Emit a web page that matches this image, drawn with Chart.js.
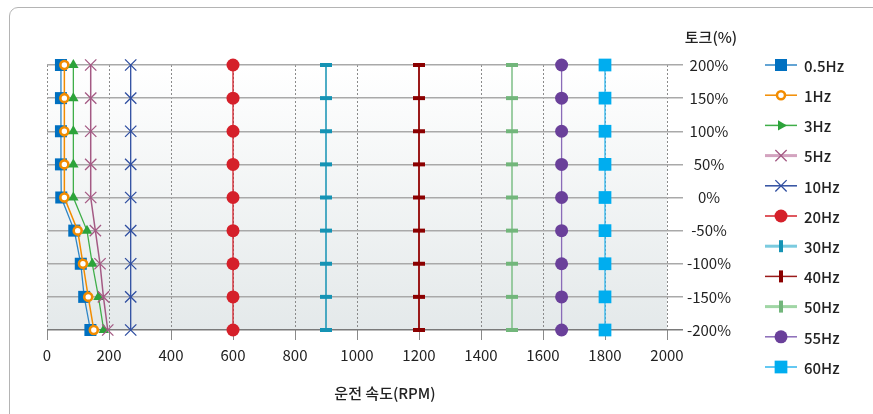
<!DOCTYPE html>
<html>
<head>
<meta charset="utf-8">
<script src="https://cdn.jsdelivr.net/npm/chart.js@4.4.0/dist/chart.umd.min.js"></script>
<style>
    html, body { margin: 0; padding: 0; background: #fff; overflow: hidden; }
    #wrap { position: relative; width: 873px; height: 414px; }
    #frame {
        position: absolute; left: 9px; top: 7px; width: 880px; height: 430px;
        border: 1.5px solid #b4b4b4; border-radius: 9px; box-sizing: border-box;
    }
    canvas { position: absolute; left: 0; top: 0; }
</style>
</head>
<body>
<div id="wrap">
    <div id="frame"></div>
    <canvas id="torqueChart" width="873" height="414"></canvas>
</div>
<script>
// Torque levels (%), shared by every series, top to bottom
const torque = [200, 150, 100, 50, 0, -50, -100, -150, -200];

// Operating speed (RPM) per frequency
const rpm05Hz = [45, 45, 45, 45, 46, 88, 109, 120, 140];
const rpm1Hz  = [56, 56, 56, 56, 56, 99, 116, 133, 151];
const rpm3Hz  = [85, 85, 85, 85, 85, 129, 146, 166, 183];
const rpm5Hz  = [141, 141, 141, 141, 141, 156, 171, 182, 196];
const rpm10Hz = [270, 270, 270, 270, 270, 270, 270, 270, 270];
const rpm20Hz = [600, 600, 600, 600, 600, 600, 600, 600, 600];
const rpm30Hz = [900, 900, 900, 900, 900, 900, 900, 900, 900];
const rpm40Hz = [1200, 1200, 1200, 1200, 1200, 1200, 1200, 1200, 1200];
const rpm50Hz = [1500, 1500, 1500, 1500, 1500, 1500, 1500, 1500, 1500];
const rpm55Hz = [1660, 1660, 1660, 1660, 1660, 1660, 1660, 1660, 1660];
const rpm60Hz = [1800, 1800, 1800, 1800, 1800, 1800, 1800, 1800, 1800];

const seriesLabels = ['0.5Hz', '1Hz', '3Hz', '5Hz', '10Hz', '20Hz', '30Hz', '40Hz', '50Hz', '55Hz', '60Hz'];
const seriesRpm = [rpm05Hz, rpm1Hz, rpm3Hz, rpm5Hz, rpm10Hz, rpm20Hz, rpm30Hz, rpm40Hz, rpm50Hz, rpm55Hz, rpm60Hz];

// Marker / line styles per series
const styles = [
    { line: '#2f86c6', fill: '#0070c0', stroke: '#0070c0', point: 'rect', r: 8.5, bw: 0, lw: 1.3 },
    { line: '#f28c00', fill: '#ffffff', stroke: '#f28c00', point: 'circle', r: 4, bw: 2.6, lw: 1.5 },
    { line: '#3fae49', fill: '#2ca33a', stroke: '#2ca33a', point: 'triangle', r: 6, bw: 0, lw: 1.3, legendRot: 90 },
    { line: '#a45a84', fill: '#a45a84', stroke: '#a45a84', point: 'crossRot', r: 8, bw: 1.3, lw: 1.5, legendLine: 'rgba(200,140,175,0.8)', legendLw: 3 },
    { line: '#2f4ea0', fill: '#2f4ea0', stroke: '#2f4ea0', point: 'crossRot', r: 8, bw: 1.3, lw: 1.3 },
    { line: '#d5202a', fill: '#d5202a', stroke: '#d5202a', point: 'circle', r: 6.5, bw: 0, lw: 1.3 },
    { line: '#1593b4', fill: '#1593b4', stroke: '#1593b4', point: 'line', r: 6, bw: 4, lw: 1.5, legendRot: 90, legendLine: 'rgba(90,190,215,0.8)', legendLw: 3 },
    { line: '#9b1a1a', fill: '#8b0000', stroke: '#8b0000', point: 'line', r: 6, bw: 4, lw: 2, legendRot: 90 },
    { line: '#7dbf86', fill: '#72b67b', stroke: '#72b67b', point: 'line', r: 6, bw: 4, lw: 1.5, legendRot: 90, legendLine: 'rgba(150,210,155,0.9)', legendLw: 3 },
    { line: '#8a6bb8', fill: '#6a409a', stroke: '#6a409a', point: 'circle', r: 6.5, bw: 0, lw: 1.3 },
    { line: '#2fb6ee', fill: '#00adef', stroke: '#00adef', point: 'rect', r: 9, bw: 0, lw: 1.3 }
];

const FONT = '"Noto Sans CJK KR", "Noto Sans", sans-serif';

const datasets = seriesLabels.map((label, i) => {
    const s = styles[i];
    return {
        label: label,
        data: seriesRpm[i].map((x, k) => ({ x: x, y: torque[k] })),
        showLine: true,
        clip: false,
        order: seriesLabels.length - i,
        borderColor: s.line,
        borderWidth: s.lw,
        pointStyle: s.point,
        pointRadius: s.r,
        pointHoverRadius: s.r,
        pointBackgroundColor: s.fill,
        pointBorderColor: s.stroke,
        pointBorderWidth: s.bw,
        tension: 0
    };
});

// Plot area gradient
const plotBackground = {
    id: 'plotBackground',
    beforeDraw(chart) {
        const { ctx, chartArea: a } = chart;
        const g = ctx.createLinearGradient(0, a.top, 0, a.bottom);
        g.addColorStop(0, '#ffffff');
        g.addColorStop(1, '#e4e9ea');
        ctx.save();
        ctx.fillStyle = g;
        ctx.fillRect(a.left, a.top, a.right - a.left, a.bottom - a.top);
        ctx.restore();
    }
};

// Titles and right-hand legend (line through marker)
const extras = {
    id: 'extras',
    afterDraw(chart) {
        const ctx = chart.ctx;
        ctx.save();
        ctx.fillStyle = '#222';
        ctx.font = '500 15px ' + FONT;
        ctx.textAlign = 'center';
        ctx.textBaseline = 'middle';
        ctx.fillText('토크(%)', 711, 37);
        ctx.fillText('운전 속도(RPM)', 385, 393);

        const x0 = 765, x1 = 797, xm = 781, top = 65, gap = 30.2;
        seriesLabels.forEach((label, i) => {
            const s = styles[i];
            const y = top + i * gap;
            ctx.strokeStyle = s.legendLine || s.line;
            ctx.lineWidth = s.legendLw || 1.5;
            ctx.beginPath();
            ctx.moveTo(x0, y);
            ctx.lineTo(x1, y);
            ctx.stroke();
            ctx.fillStyle = s.fill;
            ctx.strokeStyle = s.stroke;
            ctx.lineWidth = s.bw;
            Chart.helpers.drawPoint(ctx, {
                pointStyle: s.point, rotation: s.legendRot || 0,
                radius: s.r, borderWidth: s.bw
            }, xm, y);
            ctx.fillStyle = '#222';
            ctx.textAlign = 'left';
            ctx.font = '500 15px ' + FONT;
            ctx.fillText(label, 804, y + 1);
        });
        ctx.restore();
    }
};

const ctx = document.getElementById('torqueChart').getContext('2d');
const torqueChart = new Chart(ctx, {
    type: 'scatter',
    data: { datasets: datasets },
    options: {
        responsive: false,
        animation: false,
        layout: { padding: { left: 47, top: 65, right: 133, bottom: 0 } },
        plugins: {
            legend: { display: false },
            tooltip: { enabled: false }
        },
        scales: {
            x: {
                type: 'linear',
                min: 0,
                max: 2000,
                afterFit(scale) { scale.height = 84; },
                ticks: {
                    stepSize: 200,
                    padding: 6,
                    color: '#222',
                    font: { family: FONT, size: 15 },
                    callback: v => String(v)
                },
                grid: { color: '#8a8a8a', lineWidth: 1, tickLength: 10 },
                border: { display: false, dash: [2, 2] }
            },
            y: {
                type: 'linear',
                position: 'right',
                min: -200,
                max: 200,
                afterFit(scale) { scale.width = 73; },
                ticks: {
                    stepSize: 50,
                    padding: 4,
                    color: '#222',
                    crossAlign: 'center',
                    font: { family: FONT, size: 15 },
                    callback: v => v + '%'
                },
                grid: {
                    color: ctx => ctx.tick && ctx.tick.value === -200 ? '#7a7a7a' : '#a9a9a9',
                    lineWidth: 1.5,
                    tickLength: 16
                },
                border: { display: false }
            }
        }
    },
    plugins: [plotBackground, extras]
});
</script>
</body>
</html>
